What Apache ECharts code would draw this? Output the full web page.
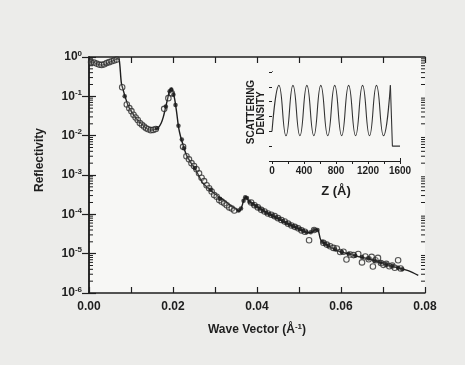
<!DOCTYPE html>
<html>
<head>
<meta charset="utf-8">
<script src="https://cdn.jsdelivr.net/npm/echarts@6/dist/echarts.min.js"></script>
<style>
  html, body { margin: 0; padding: 0; background: #ececea; }
  #chart { width: 465px; height: 365px; }
</style>
</head>
<body>
<div id="chart"></div>
<script>
// fitted reflectivity curve [q, R]
const fitLine = [
  [0, 0.76], [0.001, 0.74], [0.002, 0.66], [0.003, 0.62], [0.004, 0.66], [0.005, 0.74],
  [0.006, 0.82], [0.0068, 0.9], [0.0072, 0.85], [0.0077, 0.22], [0.0081, 0.15], [0.0086, 0.098],
  [0.0094, 0.055], [0.0103, 0.038], [0.0113, 0.027], [0.0123, 0.021], [0.0133, 0.0165],
  [0.0145, 0.0138], [0.0157, 0.0145], [0.0165, 0.016], [0.0172, 0.021], [0.0177, 0.03],
  [0.0182, 0.05], [0.0187, 0.085], [0.0192, 0.14], [0.0196, 0.16], [0.02, 0.13], [0.0204, 0.085],
  [0.0209, 0.037], [0.0213, 0.017], [0.0218, 0.0095], [0.0224, 0.0058], [0.0232, 0.0032],
  [0.0242, 0.0021], [0.0255, 0.0013], [0.027, 0.00065], [0.0285, 0.00045], [0.03, 0.00033],
  [0.0318, 0.00024], [0.0336, 0.00017], [0.035, 0.000135], [0.0358, 0.00012], [0.0364, 0.00016],
  [0.0369, 0.00024], [0.0374, 0.00028], [0.038, 0.00022], [0.04, 0.00016], [0.0423, 0.00011],
  [0.0445, 0.000082], [0.0463, 0.000065], [0.0485, 0.00005], [0.0505, 0.00004], [0.0522, 0.000034],
  [0.0532, 0.000036], [0.054, 0.000042], [0.0546, 0.000038], [0.0552, 0.000022], [0.0565, 0.000017],
  [0.0582, 0.0000135], [0.06, 0.000011], [0.0621, 0.0000098], [0.064, 0.0000085], [0.0661, 0.0000076],
  [0.068, 0.0000066], [0.0701, 0.0000056], [0.072, 0.0000048], [0.074, 0.0000043], [0.076, 0.0000037],
  [0.0784, 0.0000028]
];

// measured points, open circles
const openPts = [
  [0.0005, 0.74], [0.0012, 0.72], [0.0018, 0.68], [0.0024, 0.64], [0.003, 0.63], [0.0036, 0.65],
  [0.0042, 0.7], [0.0048, 0.74], [0.0054, 0.78], [0.006, 0.82], [0.0066, 0.86], [0.0079, 0.17],
  [0.009, 0.062], [0.0096, 0.05], [0.0101, 0.042], [0.0106, 0.034], [0.0111, 0.029], [0.0116, 0.025],
  [0.0121, 0.021], [0.0126, 0.019], [0.0131, 0.017], [0.0136, 0.0155], [0.0141, 0.0145],
  [0.0147, 0.0138], [0.0153, 0.014], [0.0159, 0.0148], [0.0179, 0.048], [0.0189, 0.09], [0.0197, 0.12],
  [0.0224, 0.0052], [0.0232, 0.003], [0.0238, 0.0025], [0.0244, 0.002], [0.025, 0.0017], [0.0256, 0.0014],
  [0.0262, 0.0011], [0.0268, 0.00085], [0.0274, 0.0007], [0.028, 0.00055], [0.0286, 0.00046],
  [0.0292, 0.00038], [0.0298, 0.00031], [0.0304, 0.00028], [0.031, 0.00023], [0.0316, 0.00021],
  [0.0322, 0.00019], [0.0328, 0.00017], [0.0334, 0.00015], [0.034, 0.00014], [0.0346, 0.000125],
  [0.0386, 0.0002], [0.0394, 0.00017], [0.0402, 0.00015], [0.041, 0.00013], [0.0418, 0.000118],
  [0.0426, 0.000105], [0.0434, 0.000098], [0.0442, 0.00009], [0.045, 0.00008], [0.0458, 0.000072],
  [0.0466, 0.000066], [0.0474, 0.000058], [0.0482, 0.000052], [0.049, 0.000048], [0.0498, 0.000044],
  [0.0506, 0.000039], [0.0514, 0.000036], [0.0524, 0.000022], [0.0536, 0.00004], [0.0558, 0.000019],
  [0.0566, 0.000017], [0.0574, 0.0000155], [0.0582, 0.000014], [0.059, 0.0000135], [0.0598, 0.000011],
  [0.0606, 0.0000112], [0.0613, 0.0000071], [0.0622, 0.0000095], [0.063, 0.0000092], [0.0641, 0.0000098],
  [0.065, 0.000006], [0.0658, 0.0000085], [0.0666, 0.0000072], [0.0673, 0.0000083], [0.0676, 0.0000047],
  [0.0682, 0.0000068], [0.0688, 0.0000078], [0.0695, 0.0000058], [0.0701, 0.0000052], [0.0708, 0.0000055],
  [0.0715, 0.0000048], [0.0722, 0.000005], [0.0728, 0.0000044], [0.0736, 0.0000068], [0.0742, 0.0000042]
];

// measured points, filled dots
const solidPts = [
  [0.0085, 0.1], [0.0162, 0.0155], [0.0183, 0.055], [0.0192, 0.135], [0.0196, 0.15], [0.0201, 0.11],
  [0.0206, 0.06], [0.0213, 0.018], [0.0221, 0.008], [0.0226, 0.0048], [0.0252, 0.0015], [0.029, 0.00042],
  [0.0312, 0.00025], [0.0356, 0.000125], [0.0362, 0.00014], [0.0368, 0.00022], [0.0372, 0.00027],
  [0.0376, 0.00026], [0.0382, 0.00021], [0.039, 0.00018], [0.0398, 0.00016], [0.0406, 0.00014],
  [0.0414, 0.000125], [0.0422, 0.00011], [0.043, 0.0001], [0.0438, 0.000092], [0.0446, 0.000083],
  [0.0454, 0.000076], [0.0462, 0.000068], [0.047, 0.00006], [0.0478, 0.000055], [0.0486, 0.00005],
  [0.0494, 0.000046], [0.0502, 0.000042], [0.051, 0.000038], [0.0518, 0.000035], [0.0528, 0.000035],
  [0.0536, 0.00004], [0.0544, 0.00004], [0.0556, 0.00002], [0.0562, 0.000018], [0.057, 0.000016],
  [0.0586, 0.000013], [0.0602, 0.000011], [0.0618, 0.00001], [0.0634, 0.0000088], [0.065, 0.0000082],
  [0.0666, 0.0000075], [0.068, 0.0000066], [0.0694, 0.000006], [0.0708, 0.0000054], [0.0722, 0.0000049],
  [0.0736, 0.0000044], [0.0746, 0.000004]
];

// log minor tick values (2..9 per decade)
const minorTicks = [];
[1e-6, 1e-5, 1e-4, 1e-3, 1e-2, 1e-1].forEach(d => {
  [2, 3, 4, 5, 6, 7, 8, 9].forEach(m => minorTicks.push([0, m * d]));
});

// inset: scattering density profile [Z, density]
const densityWave = [
  [0, 2.0], [87, 5.1], [175, 1.7], [262, 5.1], [349, 1.7], [436, 5.1], [523, 1.7], [610, 5.1],
  [697, 1.7], [784, 5.1], [871, 1.7], [958, 5.1], [1045, 1.7], [1132, 5.1], [1219, 1.7],
  [1306, 5.1], [1393, 1.7], [1480, 5.1]
];
const densityStep = [[1480, 5.1], [1505, 1.0], [1600, 1.0]];

const chart = echarts.init(document.getElementById('chart'));
const ink = '#1e1e1e';
const font = 'Liberation Sans, Arial, sans-serif';

const axisBase = {
  axisLine: { lineStyle: { color: ink, width: 1.5 } },
  splitLine: { show: false },
  axisTick: { inside: true, lineStyle: { color: ink, width: 1 } }
};

const option = {
  animation: false,
  backgroundColor: '#ececea',
  grid: [
    { left: 89, top: 57, width: 336, height: 236, show: true, backgroundColor: '#f7f7f5', borderWidth: 0 },
    { left: 272, top: 72, width: 128, height: 89, show: true, backgroundColor: '#f7f7f5', borderWidth: 0, z: 5 }
  ],
  xAxis: [
    Object.assign({}, axisBase, {
      type: 'value', gridIndex: 0, min: 0, max: 0.08, interval: 0.01,
      axisTick: { inside: true, length: 6, lineStyle: { color: ink, width: 1.2 } },
      axisLabel: {
        margin: 8, color: ink, fontFamily: font, fontWeight: 'bold', fontSize: 12,
        formatter: v => (Math.round(v * 100) % 2 === 0 ? v.toFixed(2) : '')
      },
      name: '{n|Wave Vector (Å}{s|-1}{n|)}',
      nameLocation: 'middle', nameGap: 30,
      nameTextStyle: {
        rich: {
          n: { fontFamily: font, fontWeight: 'bold', fontSize: 12, color: ink },
          s: { fontFamily: font, fontWeight: 'bold', fontSize: 8, color: ink, verticalAlign: 'top', padding: [0, 0, 6, 0] }
        }
      }
    }),
    Object.assign({}, axisBase, {
      type: 'value', gridIndex: 0, position: 'top', min: 0, max: 0.08, interval: 0.01,
      axisTick: { inside: true, length: 6, lineStyle: { color: ink, width: 1.2 } },
      axisLabel: { show: false }
    }),
    Object.assign({}, axisBase, {
      type: 'value', gridIndex: 1, min: 0, max: 1600, interval: 400,
      axisLine: { lineStyle: { color: ink, width: 1 } },
      axisTick: { inside: true, length: 3, lineStyle: { color: ink } },
      minorTick: { show: true, splitNumber: 2, length: 3, lineStyle: { color: ink } },
      axisLabel: {
        margin: 5, color: ink, fontFamily: font, fontWeight: 'bold', fontSize: 10,
        formatter: v => String(v)
      },
      name: 'Z (Å)', nameLocation: 'middle', nameGap: 24,
      nameTextStyle: { fontFamily: font, fontWeight: 'bold', fontSize: 13, color: ink }
    }),
    Object.assign({}, axisBase, {
      type: 'value', gridIndex: 1, position: 'top', min: 0, max: 1600, interval: 400,
      axisLine: { lineStyle: { color: ink, width: 1 } },
      axisTick: { inside: true, length: 3, lineStyle: { color: ink } },
      minorTick: { show: true, splitNumber: 2, length: 3, lineStyle: { color: ink } },
      axisLabel: { show: false }
    })
  ],
  yAxis: [
    Object.assign({}, axisBase, {
      type: 'log', gridIndex: 0, min: 1e-6, max: 1, logBase: 10,
      axisTick: { inside: true, length: 7, lineStyle: { color: ink, width: 1.2 } },
      axisLabel: {
        margin: 7, color: ink,
        formatter: v => '{b|10}{e|' + Math.round(Math.log10(v)) + '}',
        rich: {
          b: { fontFamily: font, fontWeight: 'bold', fontSize: 12, color: ink },
          e: { fontFamily: font, fontWeight: 'bold', fontSize: 8, color: ink, verticalAlign: 'top', padding: [0, 0, 7, 0] }
        }
      }
    }),
    Object.assign({}, axisBase, {
      type: 'log', gridIndex: 0, position: 'right', min: 1e-6, max: 1, logBase: 10,
      axisTick: { inside: true, length: 7, lineStyle: { color: ink, width: 1.2 } },
      axisLabel: { show: false }
    }),
    Object.assign({}, axisBase, {
      type: 'value', gridIndex: 1, min: 0, max: 6, interval: 1,
      axisLine: { lineStyle: { color: ink, width: 1 } },
      axisTick: { inside: true, length: 3, lineStyle: { color: ink } },
      axisLabel: { show: false }
    }),
    Object.assign({}, axisBase, {
      type: 'value', gridIndex: 1, position: 'right', min: 0, max: 6, interval: 1,
      axisLine: { lineStyle: { color: ink, width: 1 } },
      axisTick: { inside: true, length: 3, lineStyle: { color: ink } },
      axisLabel: { show: false }
    })
  ],
  graphic: [
    {
      type: 'text', left: 34, top: 128, rotation: Math.PI / 2,
      style: { text: 'Reflectivity', font: 'bold 12px ' + font, fill: ink }
    },
    {
      type: 'text', x: 251, y: 112, rotation: Math.PI / 2, z: 10,
      style: { text: 'SCATTERING', font: 'bold 10px ' + font, fill: ink, align: 'center', verticalAlign: 'middle' }
    },
    {
      type: 'text', x: 261, y: 113, rotation: Math.PI / 2, z: 10,
      style: { text: 'DENSITY', font: 'bold 10px ' + font, fill: ink, align: 'center', verticalAlign: 'middle' }
    }
  ],
  series: [
    {
      type: 'custom', xAxisIndex: 0, yAxisIndex: 0, data: minorTicks, silent: true,
      renderItem: (params, api) => {
        const l = api.coord([0, api.value(1)]);
        const r = api.coord([0.08, api.value(1)]);
        const st = { stroke: ink, lineWidth: 1 };
        return {
          type: 'group', children: [
            { type: 'line', shape: { x1: l[0], y1: l[1], x2: l[0] + 4, y2: l[1] }, style: st },
            { type: 'line', shape: { x1: r[0] - 4, y1: r[1], x2: r[0], y2: r[1] }, style: st }
          ]
        };
      }
    },
    {
      type: 'line', xAxisIndex: 0, yAxisIndex: 0, data: fitLine, showSymbol: false, smooth: 0.3,
      lineStyle: { color: ink, width: 1.4 }, z: 2
    },
    {
      type: 'scatter', xAxisIndex: 0, yAxisIndex: 0, data: openPts, symbolSize: 5.5,
      itemStyle: { color: 'rgba(247,247,245,0.2)', borderColor: '#2a2a2a', borderWidth: 1.1 }, z: 3
    },
    {
      type: 'scatter', xAxisIndex: 0, yAxisIndex: 0, data: solidPts, symbolSize: 4.5,
      itemStyle: { color: '#1a1a1a' }, z: 4
    },
    {
      type: 'line', xAxisIndex: 2, yAxisIndex: 2, data: densityWave, smooth: 0.5,
      showSymbol: false,
      lineStyle: { color: '#333', width: 1.1 }, z: 6
    },
    {
      type: 'line', xAxisIndex: 2, yAxisIndex: 2, data: densityStep, smooth: false,
      symbol: 'circle', symbolSize: 3, itemStyle: { color: ink }, showSymbol: false,
      lineStyle: { color: '#333', width: 1.1 }, z: 6
    }
  ]
};

chart.setOption(option);
</script>
</body>
</html>
